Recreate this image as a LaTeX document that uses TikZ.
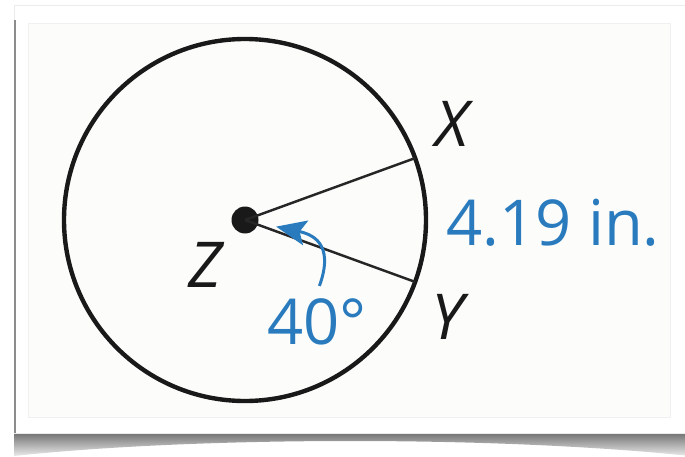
\documentclass[tikz,border=0pt]{standalone}
\usepackage{fontspec}
\setmainfont{Open Sans}
\usepackage{tikz}
\usetikzlibrary{arrows.meta,calc,shadings}
\definecolor{lblblue}{RGB}{41,123,190}
\definecolor{panel}{RGB}{252,252,250}
\tikzset{
  rim/.style={line width=2.5pt,draw=black!90},
  rad/.style={line width=1.4pt,draw=black!85},
  ctr/.style={circle,fill=black!90,inner sep=0pt,minimum size=0.54cm},
  pt/.style={font=\fontsize{36}{38}\selectfont\itshape,text=black!90},
  val/.style={font=\fontsize{36}{38}\selectfont,text=lblblue},
  angarr/.style={-{Stealth[length=0.6cm,width=0.5cm,inset=0.12cm]},line width=1.7pt,draw=lblblue},
}
\begin{document}
\begin{tikzpicture}[x=0.02cm,y=-0.02cm]
  \useasboundingbox (0,0) rectangle (685,456);
  % card and shadow
  \shade[top color=black!55,bottom color=black!8] (14,433) -- (690,433) -- (690,456) .. controls (500,436) and (200,436) .. (14,456) -- cycle;
  \draw[fill=white,draw=black!8] (14,5) rectangle (690,433);
  \draw[black!45,line width=1.5pt] (15,20) -- (15,433);
  \draw[fill=panel,draw=black!6] (28,23) rectangle (670,417);
  % circle
  \node[ctr] (Z) at (245,220) {};
  \draw[rim] (Z.center) circle (181);
  \coordinate (X) at ($(Z.center)+(20:181 and -181)$);
  \coordinate (Y) at ($(Z.center)+(-20:181 and -181)$);
  \draw[rad] (Z.center) -- (X);
  \draw[rad] (Z.center) -- (Y);
  % labels
  \node[pt] (lx) at (452,124) {X};
  \node[pt] (ly) at (448,317) {Y};
  \node[pt] (lz) at (205,265) {Z};
  \node[val] (arc) at (553,223) {4.19 in.};
  \node[val] (deg) at (317,322) {40°};
  \draw[angarr,shorten <=4pt,shorten >=0.36cm] (deg.north) to[out=70,in=-12,looseness=1.5] (Z);
\end{tikzpicture}
\end{document}
